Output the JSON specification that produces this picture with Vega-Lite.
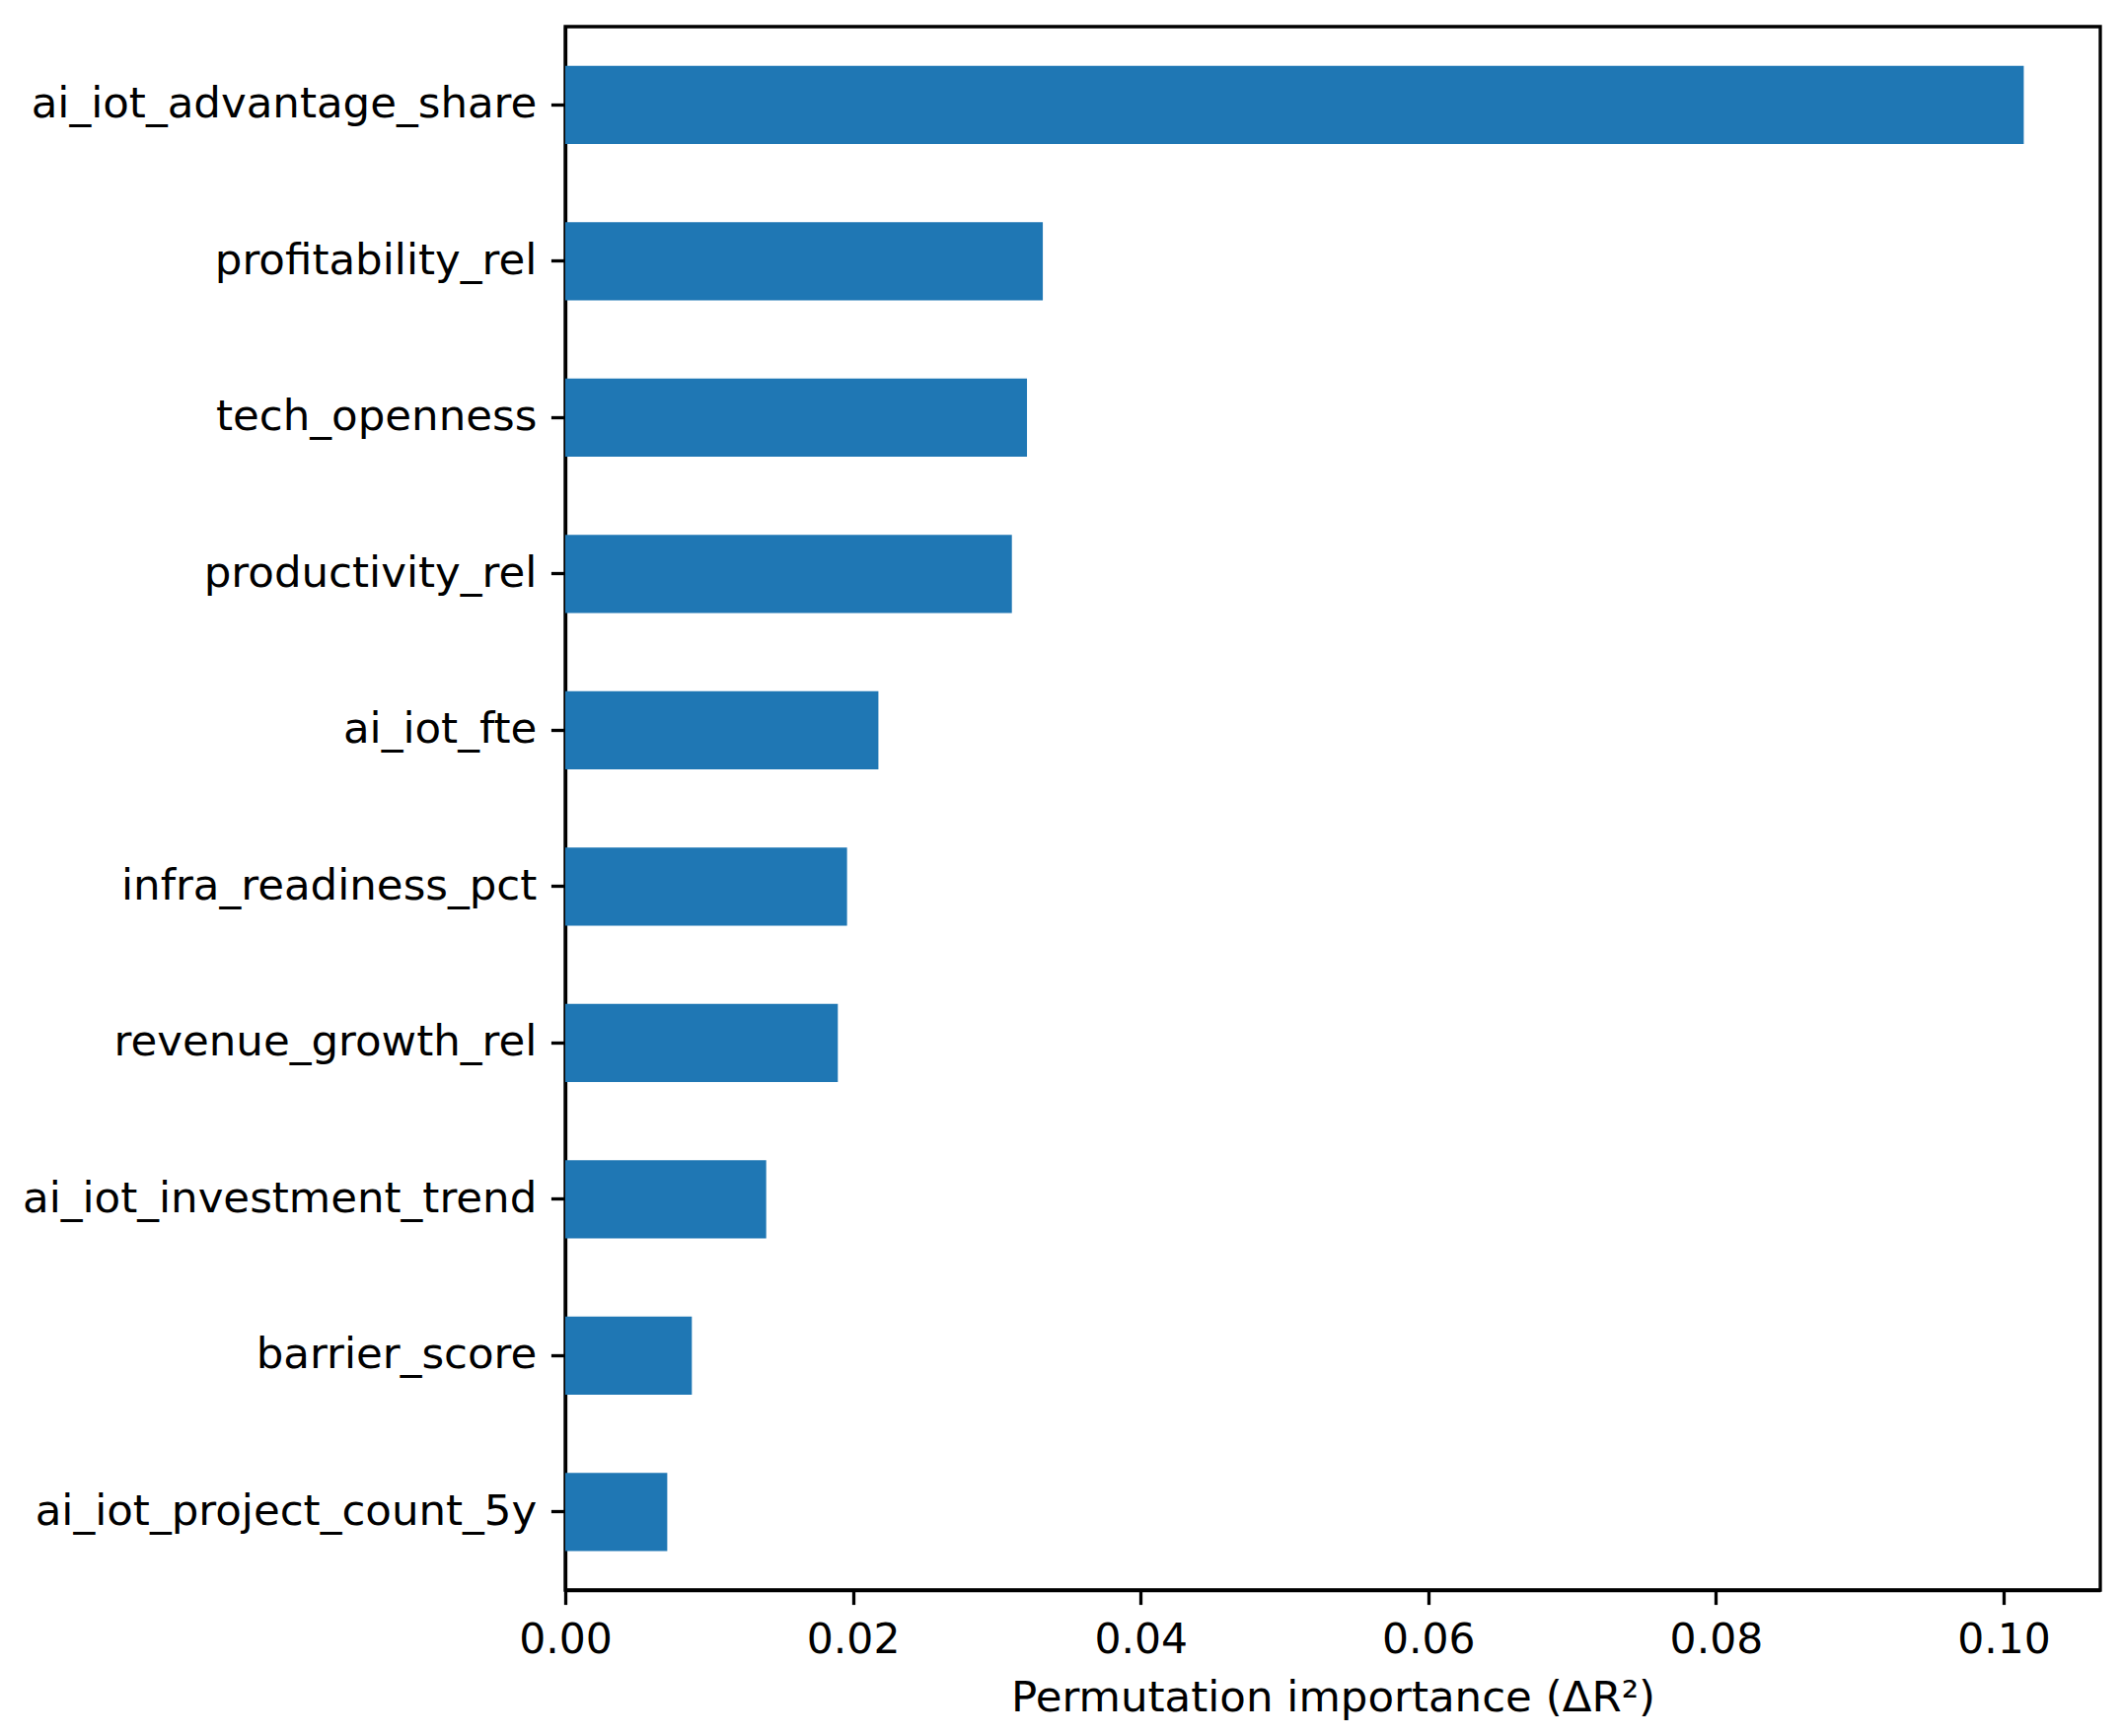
{
  "$schema": "https://vega.github.io/schema/vega-lite/v6.json",
  "width": 1556,
  "height": 1585,
  "autosize": "none",
  "padding": {"left": 573, "top": 27, "right": 21, "bottom": 148},
  "background": "white",
  "data": {
    "values": [
      {"feature": "ai_iot_advantage_share", "importance": 0.1014},
      {"feature": "profitability_rel", "importance": 0.0332},
      {"feature": "tech_openness", "importance": 0.0321},
      {"feature": "productivity_rel", "importance": 0.03105},
      {"feature": "ai_iot_fte", "importance": 0.02177},
      {"feature": "infra_readiness_pct", "importance": 0.01959},
      {"feature": "revenue_growth_rel", "importance": 0.01895},
      {"feature": "ai_iot_investment_trend", "importance": 0.01397},
      {"feature": "barrier_score", "importance": 0.0088},
      {"feature": "ai_iot_project_count_5y", "importance": 0.00709}
    ]
  },
  "mark": {"type": "bar", "color": "#1f77b4"},
  "encoding": {
    "y": {
      "field": "feature",
      "type": "nominal",
      "sort": null,
      "title": null,
      "scale": {"paddingInner": 0.5, "paddingOuter": 0.25},
      "axis": {"labelLimit": 0, "labelFontSize": 43.5}
    },
    "x": {
      "field": "importance",
      "type": "quantitative",
      "title": "Permutation importance (ΔR²)",
      "scale": {"domain": [0, 0.10672], "nice": false, "zero": true},
      "axis": {
        "values": [0, 0.02, 0.04, 0.06, 0.08, 0.1],
        "format": ".2f",
        "titlePadding": 17,
        "labelFontSize": 42.5
      }
    }
  },
  "config": {
    "font": "DejaVu Sans",
    "view": {"stroke": "black", "strokeWidth": 3.3},
    "axis": {
      "grid": false,
      "domainColor": "black",
      "domainWidth": 3.3,
      "tickColor": "black",
      "tickWidth": 3.3,
      "tickSize": 14.6,
      "labelPadding": 14.6,
      "labelFont": "DejaVu Sans",
      "labelColor": "black",
      "labelOverlap": false,
      "labelFlush": false,
      "titleFont": "DejaVu Sans",
      "titleFontSize": 43.5,
      "titleFontWeight": "normal",
      "titleColor": "black"
    }
  }
}
